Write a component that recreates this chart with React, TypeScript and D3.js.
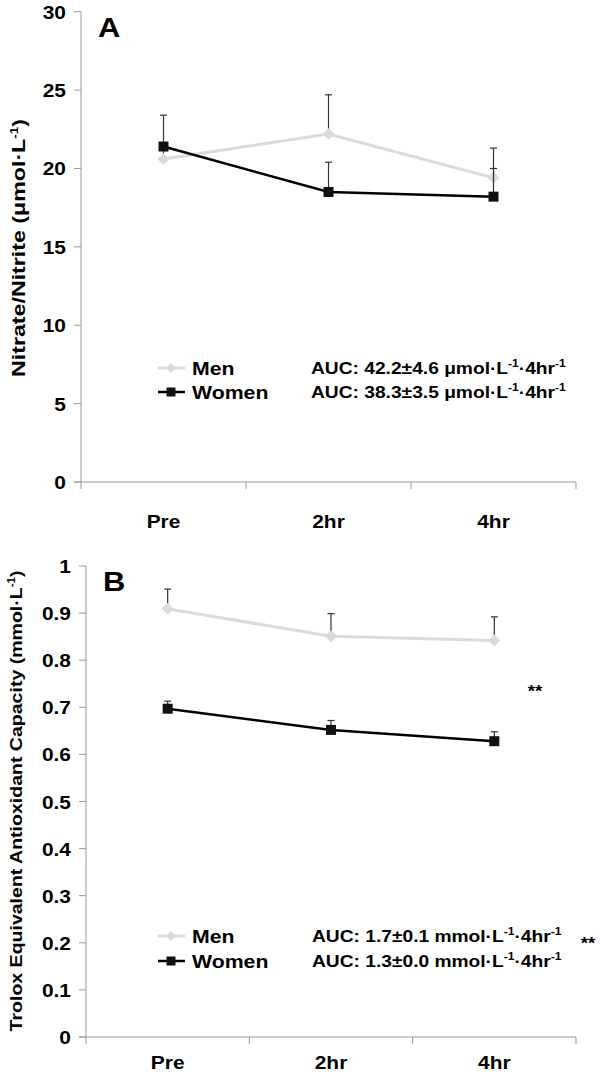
import React from "react";
import * as d3 from "d3";

const categories = ["Pre", "2hr", "4hr"];

// Panel A: Nitrate/Nitrite (µmol/L)
const menA = [20.6, 22.2, 19.4];
const menAUpper = [21.6, 24.7, 21.3];
const womenA = [21.4, 18.5, 18.2];
const womenAUpper = [23.4, 20.4, 20.0];
const ticksA = [0, 5, 10, 15, 20, 25, 30];

// Panel B: TEAC (mmol/L)
const menB = [0.909, 0.851, 0.842];
const menBUpper = [0.951, 0.899, 0.892];
const womenB = [0.697, 0.652, 0.628];
const womenBUpper = [0.713, 0.672, 0.648];
const ticksB = [0, 0.1, 0.2, 0.3, 0.4, 0.5, 0.6, 0.7, 0.8, 0.9, 1];

const FONT = "'Liberation Sans', Arial, Helvetica, sans-serif";
const AXIS = "#999";
const MEN = "#dadada";
const WOMEN = "#000";

function T({ x, y, size, anchor = "start", sx = 1.12, rot = 0, children, weight = "bold" }: any) {
  return (
    <text
      transform={`translate(${x},${y}) rotate(${rot}) scale(${sx},1)`}
      fontFamily={FONT}
      fontSize={size}
      fontWeight={weight}
      textAnchor={anchor}
      fill="#000"
    >
      {children}
    </text>
  );
}

function Panel({ x0, x1, yBottom, yTop, domainMax, ticks, tickFmt, men, menUp, women, womenUp, label, labelY, catY }: any) {
  const x = d3.scaleBand<string>().domain(categories).range([x0, x1]);
  const y = d3.scaleLinear().domain([0, domainMax]).range([yBottom, yTop]);
  const cx = (c: string) => (x(c) as number) + x.bandwidth() / 2;
  const line = d3
    .line<number>()
    .x((_, i) => cx(categories[i]))
    .y((d) => y(d));
  const bounds = [x0, ...categories.map((c) => (x(c) as number) + x.bandwidth())];
  const errBar = (vals: number[], ups: number[], key: string) =>
    vals.map((v, i) => {
      const px = cx(categories[i]);
      return (
        <g key={key + i}>
          <line x1={px} x2={px} y1={y(v)} y2={y(ups[i])} stroke="#333" strokeWidth={1.2} />
          <line x1={px - 3.5} x2={px + 3.5} y1={y(ups[i])} y2={y(ups[i])} stroke="#333" strokeWidth={1.2} />
        </g>
      );
    });
  return (
    <g>
      <line x1={x0} x2={x0} y1={yTop} y2={yBottom} stroke={AXIS} strokeWidth={1} />
      {ticks.map((t: number) => (
        <g key={"t" + t}>
          <line x1={x0 - 7} x2={x0} y1={y(t)} y2={y(t)} stroke={AXIS} strokeWidth={1} />
          <T x={x0 - 15} y={y(t) + 7} size={19} anchor="end" sx={1.1}>
            {tickFmt(t)}
          </T>
        </g>
      ))}
      <line x1={x0 - 7} x2={x1} y1={yBottom} y2={yBottom} stroke={AXIS} strokeWidth={1} />
      {bounds.map((b, i) => (
        <line key={"b" + i} x1={b} x2={b} y1={yBottom} y2={yBottom + 7} stroke={AXIS} strokeWidth={1} />
      ))}
      {categories.map((c) => (
        <T key={c} x={cx(c)} y={catY} size={19} anchor="middle" sx={1.1}>
          {c}
        </T>
      ))}
      <T x={x0 + 17} y={labelY} size={28} sx={1.1}>
        {label}
      </T>
      {errBar(men, menUp, "me")}
      <path d={line(men) as string} fill="none" stroke={MEN} strokeWidth={3} />
      {men.map((v: number, i: number) => {
        const px = cx(categories[i]);
        const py = y(v);
        return <path key={"md" + i} d={`M${px},${py - 6}L${px + 6},${py}L${px},${py + 6}L${px - 6},${py}Z`} fill={MEN} />;
      })}
      {errBar(women, womenUp, "we")}
      <path d={line(women) as string} fill="none" stroke={WOMEN} strokeWidth={2.5} />
      {women.map((v: number, i: number) => {
        const px = cx(categories[i]);
        const py = y(v);
        return <rect key={"ws" + i} x={px - 5} y={py - 5} width={10} height={10} fill="#111" />;
      })}
    </g>
  );
}

function LegendRow({ y, color, square, name, auc, unit, aucX }: any) {
  const lx0 = 158, lx1 = 185, mx = 171;
  return (
    <g>
      <line x1={lx0} x2={lx1} y1={y} y2={y} stroke={color} strokeWidth={square ? 2.5 : 3} />
      {square ? (
        <rect x={mx - 4.5} y={y - 4.5} width={9} height={9} fill="#111" />
      ) : (
        <path d={`M${mx},${y - 5}L${mx + 5},${y}L${mx},${y + 5}L${mx - 5},${y}Z`} fill={color} />
      )}
      <T x={192} y={y + 7} size={19} sx={1.12}>
        {name}
      </T>
      <text transform={`translate(${aucX},${y + 6}) scale(1.2,1)`} fontFamily={FONT} fontSize={16} fontWeight="bold">
        {`AUC: ${auc} ${unit}·L`}
        <tspan dy={-7} fontSize={10}>-1</tspan>
        <tspan dy={7}>·4hr</tspan>
        <tspan dy={-7} fontSize={10}>-1</tspan>
      </text>
    </g>
  );
}

export default function App() {
  return (
    <svg width={600} height={1082} style={{ position: "absolute", left: 0, top: 0, background: "#fff" }}>
      <rect width={600} height={1082} fill="#fff" />
      <Panel
        x0={81}
        x1={576}
        yBottom={482}
        yTop={11.7}
        domainMax={30}
        ticks={ticksA}
        tickFmt={(t: number) => String(t)}
        men={menA}
        menUp={menAUpper}
        women={womenA}
        womenUp={womenAUpper}
        label="A"
        labelY={37}
        catY={528}
      />
      <Panel
        x0={86}
        x1={576}
        yBottom={1037}
        yTop={566}
        domainMax={1}
        ticks={ticksB}
        tickFmt={(t: number) => (t === 0 ? "0" : t === 1 ? "1" : d3.format(".1f")(t))}
        men={menB}
        menUp={menBUpper}
        women={womenB}
        womenUp={womenBUpper}
        label="B"
        labelY={591}
        catY={1069}
      />
      <text transform="translate(25,248) rotate(-90) scale(1.22,1)" fontFamily={FONT} fontSize={19} fontWeight="bold" textAnchor="middle">
        Nitrate/Nitrite (μmol·L<tspan dy={-7} fontSize={11}>-1</tspan><tspan dy={7}>)</tspan>
      </text>
      <text transform="translate(22,801) rotate(-90) scale(1.15,1)" fontFamily={FONT} fontSize={17} fontWeight="bold" textAnchor="middle">
        Trolox Equivalent Antioxidant Capacity (mmol·L<tspan dy={-7} fontSize={10}>-1</tspan><tspan dy={7}>)</tspan>
      </text>
      <LegendRow y={368} color={MEN} square={false} name="Men" auc="42.2±4.6" unit="μmol" aucX={311} />
      <LegendRow y={392} color={WOMEN} square={true} name="Women" auc="38.3±3.5" unit="μmol" aucX={311} />
      <LegendRow y={936} color={MEN} square={false} name="Men" auc="1.7±0.1" unit="mmol" aucX={312} />
      <LegendRow y={961} color={WOMEN} square={true} name="Women" auc="1.3±0.0" unit="mmol" aucX={312} />
      <T x={535} y={697} size={17} anchor="middle" sx={1.1}>**</T>
      <T x={588} y={949} size={17} anchor="middle" sx={1.1}>**</T>
    </svg>
  );
}
